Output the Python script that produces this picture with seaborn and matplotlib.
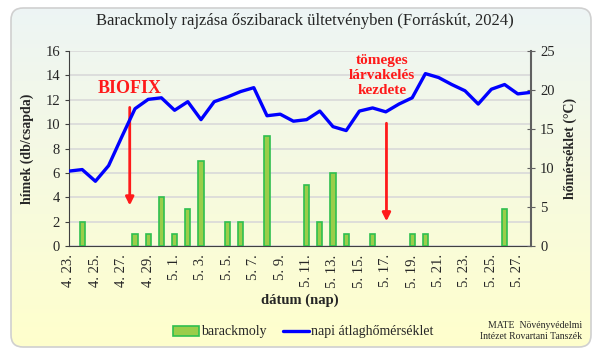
import numpy as np
import pandas as pd
import seaborn as sns
import matplotlib.pyplot as plt
import matplotlib.ticker as plticker
from matplotlib.patches import FancyBboxPatch
from matplotlib.lines import Line2D
from matplotlib.patches import Patch

# daily data, 4.23. - 5.28.
dates = (["4. %d." % d for d in range(23, 31)] +
         ["5. %d." % d for d in range(1, 29)])
moths = [0, 2, 0, 0, 0, 1, 1, 4, 1, 3, 7, 0, 2, 2, 0, 9, 0, 0,
         5, 2, 6, 1, 0, 1, 0, 0, 1, 1, 0, 0, 0, 0, 0, 3, 0, 0]
temps = [9.6, 9.8, 8.3, 10.3, 14.0, 17.6, 18.8, 19.0, 17.4, 18.5, 16.2, 18.5,
         19.1, 19.8, 20.3, 16.7, 16.9, 16.0, 16.2, 17.3, 15.3, 14.8, 17.3, 17.7,
         17.2, 18.2, 19.0, 22.1, 21.6, 20.7, 19.9, 18.2, 20.1, 20.7, 19.5, 19.7]

df = pd.DataFrame({"day": np.arange(len(dates)), "date": dates,
                   "moths": moths, "temp": temps})
bars = df[df["moths"] > 0]

serif = ["Liberation Serif", "DejaVu Serif"]
sns.set_style("white")
plt.rcParams["font.family"] = serif

fig = plt.figure(figsize=(6.05, 3.62), dpi=100)

# rounded gradient background
bg = fig.add_axes([0, 0, 1, 1], zorder=-10)
bg.set_xlim(0, 605)
bg.set_ylim(362, 0)
bg.axis("off")
top = np.array([0.93, 0.96, 0.96])
bottom = np.array([1.0, 1.0, 0.80])
t = np.linspace(0, 1, 256)[:, None]
grad = (top * (1 - t) + bottom * t)[:, None, :]
box = FancyBboxPatch((11, 8), 580, 339, boxstyle="round,pad=0,rounding_size=12",
                     facecolor="none", edgecolor="#d0d0d0", linewidth=1.2)
bg.add_patch(box)
im = bg.imshow(grad, extent=[11, 591, 347, 8], aspect="auto", zorder=0)
im.set_clip_path(box)

ax = fig.add_axes([69 / 605, 1 - 246 / 362, 462 / 605, 195 / 362])
ax.set_facecolor("none")
sns.barplot(data=bars, x="day", y="moths", native_scale=True, width=0.38,
            color="#9acd4a", edgecolor="#2fbf4f", linewidth=1.2, ax=ax,
            saturation=1, zorder=3)
ax.set_xlim(0, len(dates) - 1)
ax.set_ylim(0, 16)
ax.set_yticks(range(0, 17, 2))
ax.yaxis.grid(True, color="#d9d9d9", linewidth=1.2, zorder=0)
ax.set_axisbelow(True)
ax.xaxis.set_major_locator(plticker.MultipleLocator(2))
ax.xaxis.set_minor_locator(plticker.MultipleLocator(1))
ax.set_xticks(df["day"][::2])
ax.set_xticklabels(df["date"][::2], rotation=90, fontsize=10.5)
ax.tick_params(axis="x", which="both", direction="out", length=4, width=1,
               color="#404040", pad=2)
ax.tick_params(axis="y", direction="out", length=3, color="#404040", labelsize=10.5)
for s in ["top", "right"]:
    ax.spines[s].set_visible(False)
ax.spines["left"].set_color("#404040")
ax.spines["bottom"].set_color("#404040")
ax.set_xlabel("dátum (nap)", fontsize=10.5, fontweight="bold", labelpad=4)
ax.set_ylabel("hímek (db/csapda)", fontsize=10, fontweight="bold", labelpad=8)

ax2 = ax.twinx()
ax2.set_facecolor("none")
sns.lineplot(data=df, x="day", y="temp", color="#0000ff", linewidth=2.4, ax=ax2)
ax2.set_ylim(0, 25)
ax2.set_yticks(range(0, 26, 5))
ax2.tick_params(axis="y", direction="inout", length=6, color="#606060", labelsize=10.5)
for s in ["top", "left", "bottom"]:
    ax2.spines[s].set_visible(False)
ax2.spines["right"].set_color("#606060")
ax2.spines["right"].set_linewidth(1.5)
ax2.set_ylabel("hőmérséklet (°C)", fontsize=10, fontweight="bold", labelpad=6)
ax2.set_xlabel("")

# annotations
ax.annotate("", xy=(4.6, 3.1), xytext=(4.6, 11.6),
            arrowprops=dict(arrowstyle="-|>", color="#ff1a1a", lw=2, mutation_scale=12),
            zorder=6)
ax.text(4.6, 12.9, "BIOFIX", color="#ff1a1a", fontsize=13, fontweight="bold",
        ha="center", va="center", zorder=6)
ax.annotate("", xy=(24.05, 1.8), xytext=(24.05, 10.3),
            arrowprops=dict(arrowstyle="-|>", color="#ff1a1a", lw=2, mutation_scale=12),
            zorder=6)
ax.text(23.7, 14.0, "tömeges\nlárvakelés\nkezdete", color="#ff1a1a", fontsize=11,
        fontweight="bold", ha="center", va="center", linespacing=1.2, zorder=6)

fig.text(305 / 605, 1 - 21 / 362,
         "Barackmoly rajzása őszibarack ültetvényben (Forráskút, 2024)",
         ha="center", va="center", fontsize=12)

handles = [Patch(facecolor="#9acd4a", edgecolor="#2fbf4f", linewidth=1.2),
           Line2D([], [], color="#0000ff", linewidth=2.4)]
fig.legend(handles, ["barackmoly", "napi átlaghőmérséklet"], loc="center",
           bbox_to_anchor=(303 / 605, 1 - 332 / 362), ncol=2, frameon=False,
           fontsize=10, handlelength=1.9, handletextpad=0.1, columnspacing=1.2)
fig.text(582 / 605, 1 - 331 / 362, "MATE  Növényvédelmi\nIntézet Rovartani Tanszék",
         ha="right", va="center", fontsize=7, linespacing=1.3)

fig.savefig("out.png", dpi=100)
